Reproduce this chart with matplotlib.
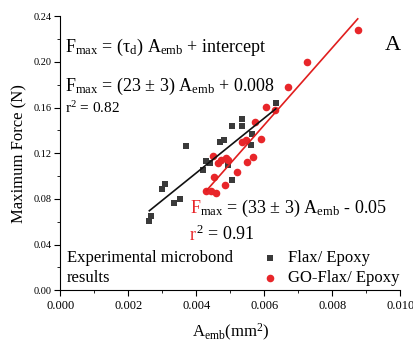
import numpy as np
import matplotlib
matplotlib.use("Agg")
from matplotlib import pyplot as plt
from matplotlib.ticker import MultipleLocator

plt.rcParams['font.family'] = ['Liberation Serif', 'DejaVu Serif']
plt.rcParams['mathtext.fontset'] = 'custom'
plt.rcParams['mathtext.rm'] = 'Liberation Serif'
plt.rcParams['mathtext.it'] = 'Liberation Serif:italic'

# Flax/ Epoxy (embedded area mm^2, max force N)
flax_x = [0.00262, 0.00266, 0.00298, 0.00307, 0.00335, 0.00353, 0.00370, 0.00419,
          0.00430, 0.00440, 0.00470, 0.00481, 0.00494, 0.00504, 0.00506, 0.00535,
          0.00536, 0.00560, 0.00565, 0.00634]
flax_y = [0.0604, 0.0648, 0.0885, 0.0931, 0.0762, 0.0800, 0.1267, 0.1054,
          0.1133, 0.1112, 0.1302, 0.1317, 0.1098, 0.0966, 0.1439, 0.1439,
          0.1501, 0.1273, 0.1369, 0.1641]

# GO-Flax/ Epoxy
go_x = [0.00430, 0.00442, 0.00458, 0.00452, 0.00484, 0.00519, 0.00450, 0.00463,
        0.00473, 0.00487, 0.00493, 0.00548, 0.00566, 0.00536, 0.00546, 0.00590,
        0.00573, 0.00604, 0.00631, 0.00671, 0.00725, 0.00875]
go_y = [0.0870, 0.0870, 0.0850, 0.0990, 0.0923, 0.1034, 0.1180, 0.1112,
        0.1140, 0.1156, 0.1142, 0.1121, 0.1171, 0.1302, 0.1317, 0.1323,
        0.1472, 0.1609, 0.1580, 0.1778, 0.1997, 0.2277]

# fitted lines as drawn (slope, intercept)
flax_fit = (24.0, 0.0068)
go_fit = (33.8, -0.058)

BLACK = '#3a3a3a'
RED = '#e8262a'

fig = plt.figure(figsize=(4.13, 3.43), dpi=100)
ax = fig.add_axes([0.146, 0.1536, 0.823, 0.7989])

ax.scatter(flax_x, flax_y, marker='s', s=24, color=BLACK, linewidths=0,
           label='Flax/ Epoxy', zorder=3)
ax.scatter(go_x, go_y, marker='o', s=30, color=RED, linewidths=0,
           label='GO-Flax/ Epoxy', zorder=3)

xs = np.array([min(flax_x), max(flax_x)])
ax.plot(xs, flax_fit[0] * xs + flax_fit[1], color='#111111', lw=1.2, zorder=4)
xs = np.array([min(go_x), max(go_x)])
ax.plot(xs, go_fit[0] * xs + go_fit[1], color='#e01e1e', lw=1.2, zorder=4)

ax.set_xlim(0, 0.010)
ax.set_ylim(0, 0.24)
ax.xaxis.set_major_locator(MultipleLocator(0.002))
ax.xaxis.set_minor_locator(MultipleLocator(0.001))
ax.yaxis.set_major_locator(MultipleLocator(0.04))
ax.yaxis.set_minor_locator(MultipleLocator(0.02))
ax.xaxis.set_major_formatter(plt.FormatStrFormatter('%.3f'))
ax.yaxis.set_major_formatter(plt.FormatStrFormatter('%.2f'))
ax.tick_params(axis='x', which='major', direction='out', length=4, labelsize=9, pad=3)
ax.tick_params(axis='y', which='major', direction='out', length=4, labelsize=7.5, pad=2)
ax.tick_params(which='minor', direction='out', length=2.5)
ax.spines['top'].set_visible(False)
ax.spines['right'].set_visible(False)

ax.set_ylabel('Maximum Force (N)', fontsize=12, labelpad=5)
ax.set_xlabel(r'A$_{\mathrm{emb}}$(mm$^2$)', fontsize=12, labelpad=7)

ax.text(0.00015, 0.209, r'F$_{\mathrm{max}}$ = (τ$_{\mathrm{d}}$) A$_{\mathrm{emb}}$ + intercept',
        fontsize=13, va='baseline')
ax.text(0.00015, 0.175, r'F$_{\mathrm{max}}$ = (23 ± 3) A$_{\mathrm{emb}}$ + 0.008',
        fontsize=13, va='baseline')
ax.text(0.00015, 0.155, r'r$^2$ = 0.82', fontsize=11, va='baseline')
ax.text(0.00955, 0.2105, 'A', fontsize=16, va='baseline')

ax.text(0.00019, 0.025, 'Experimental microbond', fontsize=12, va='baseline')
ax.text(0.00019, 0.0075, 'results', fontsize=12, va='baseline')

ax.legend(loc='lower left', bbox_to_anchor=(0.568, -0.01), frameon=False,
          fontsize=12, handletextpad=0.5, handlelength=1.2, labelspacing=0.25,
          borderaxespad=0)

# red equation: the leading letter is red, the rest black
def two_colour(x, y, head, tail, size):
    t = ax.text(x, y, head, fontsize=size, va='baseline', color=RED)
    fig.canvas.draw()
    bb = t.get_window_extent()
    x1 = ax.transData.inverted().transform((bb.x1, bb.y0))[0]
    ax.text(x1, y, tail, fontsize=size, va='baseline', color='black')

two_colour(0.00382, 0.0674, 'F', r'${}_{\mathrm{max}}$ = (33 ± 3) A$_{\mathrm{emb}}$ - 0.05', 13)
two_colour(0.00382, 0.044, 'r', r'${}^{2}$ = 0.91', 13)

fig.savefig('out.png', dpi=100)
